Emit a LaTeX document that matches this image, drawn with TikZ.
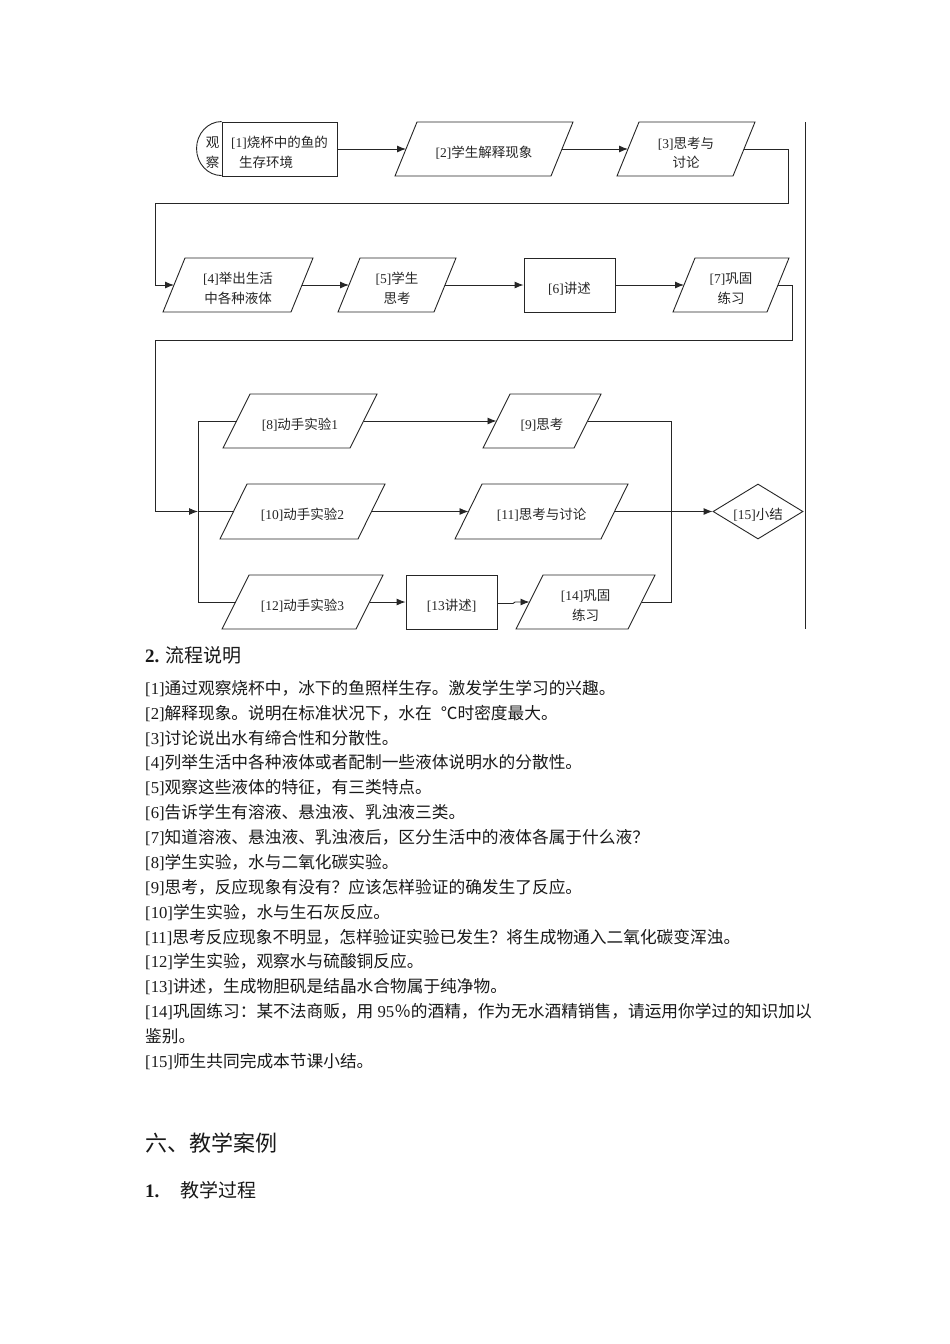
\documentclass[tikz,border=0pt]{standalone}
\usepackage{fontspec}
\setmainfont{Noto Sans CJK SC}
\newfontfamily\tmr{Liberation Serif}
\usetikzlibrary{arrows.meta,shapes.geometric}
\newcommand\lat[1]{{\tmr #1}}
\newcommand\pgram[7]{% name, BLx, TRx, slant, ytop, ybot, text
  \draw[shapeline] (#2,#6) -- (#2+#4,#5) -- (#3,#5) -- (#3-#4,#6) -- cycle;
  \coordinate (#1-w) at ({#2+#4/2},{(#5+#6)/2});
  \coordinate (#1-e) at ({#3-#4/2},{(#5+#6)/2});
  \node[boxtxt] (#1) at ({(#2+#3)/2},{(#5+#6)/2}) {#7};
}
\begin{document}
\begin{tikzpicture}[x=1pt,y=-1pt,
  shapeline/.style={line width=0.9pt, draw=black!85},
  conn/.style={line width=0.9pt, draw=black!85},
  arr/.style={conn, -{Latex[length=9pt,width=7pt]}},
  boxtxt/.style={font=\fontsize{13.5}{19.5}\selectfont, align=center, inner sep=0pt, text=black!85, yshift=-3.5pt},
  rbox/.style={shapeline, boxtxt, inner sep=0pt},
  body/.style={font=\fontsize{16.7}{20}\selectfont, anchor=base west, inner sep=0pt, text=black!90},
  head/.style={font=\fontsize{19}{22}\selectfont, anchor=base west, inner sep=0pt, text=black!90},
]
\useasboundingbox[fill=white] (0,0) rectangle (950,1344);

% ---------- row 1 ----------
\node[shapeline, draw, minimum width=115pt, minimum height=54pt, inner sep=0pt] (n1) at (279.5,149) {};
\node[boxtxt, align=left] (n1t) at (n1.center) {\lat{[1]}烧杯中的鱼的\\\hspace*{8pt}生存环境};
\draw[shapeline] (n1.north west) arc[start angle=270, end angle=90, x radius=25, y radius=27];
\node[boxtxt] (obs) at (212.5,149) {观\\察};
\pgram{p2}{395}{573}{22}{122}{176}{\lat{[2]}学生解释现象}
\pgram{p3}{617}{755}{22}{122}{176}{\lat{[3]}思考与\\讨论}

% ---------- row 2 ----------
\pgram{p4}{163}{313}{22}{258}{312}{\lat{[4]}举出生活\\中各种液体}
\pgram{p5}{338}{456}{22}{258}{312}{\lat{[5]}学生\\思考}
\node[shapeline, draw, minimum width=91pt, minimum height=54pt, inner sep=0pt] (r6) at (569.5,285) {};
\node[boxtxt] (r6t) at (r6.center) {\lat{[6]}讲述};
\pgram{p7}{673}{789}{22}{258}{312}{\lat{[7]}巩固\\练习}

% ---------- row 3 ----------
\pgram{p8}{223}{377}{27}{394}{448}{\lat{[8]}动手实验\lat{1}}
\pgram{p9}{483}{601}{27}{394}{448}{\lat{[9]}思考}
\pgram{p10}{220}{385}{27}{484}{539}{\lat{[10]}动手实验\lat{2}}
\pgram{p11}{455}{628}{27}{484}{539}{\lat{[11]}思考与讨论}
\node[shapeline, draw, diamond, inner sep=0pt, minimum width=90pt, minimum height=55pt] (d15) at (758,511.5) {};
\node[boxtxt] (d15t) at (d15.center) {\lat{[15]}小结};
\pgram{p12}{222}{383}{27}{575}{629}{\lat{[12]}动手实验\lat{3}}
\node[shapeline, draw, minimum width=91pt, minimum height=54pt, inner sep=0pt] (r13) at (451.5,602) {};
\node[boxtxt] (r13t) at (r13.center) {\lat{[13}讲述\lat{]}};
\pgram{p14}{516}{655}{27}{575}{629}{\lat{[14]}巩固\\练习}

% helper coordinates
\coordinate (c3a) at (788,149);
\coordinate (c3b) at (788,203);
\coordinate (c3c) at (155,203);
\coordinate (c4) at (155,285);
\coordinate (c7a) at (792,285);
\coordinate (c7b) at (792,340);
\coordinate (c7c) at (155,340);
\coordinate (c10) at (155,511.5);
\coordinate (jn) at (198,511.5);
\coordinate (jt) at (198,421);
\coordinate (jb) at (198,602);
\coordinate (mt) at (671,421);
\coordinate (mb) at (671,602);
\coordinate (rt) at (805,122);
\coordinate (rb) at (805,629);
\coordinate (k1) at (513,603.5);
\coordinate (k2) at (515,602);

% ---------- connectors ----------
\draw[arr] (n1.east) -- (p2-w);
\draw[arr] (p2-e) -- (p3-w);
\draw[arr] (p3-e) -- (c3a) -- (c3b) -- (c3c) -- (c4) -- (p4-w);
\draw[arr] (p4-e) -- (p5-w);
\draw[arr] (p5-e) -- (r6.west);
\draw[arr] (r6.east) -- (p7-w);
\draw[arr] (p7-e) -- (c7a) -- (c7b) -- (c7c) -- (c10) -- (jn);
\draw[conn] (jn) -- (p10-w);
\draw[conn] (jt) -- (jb);
\draw[conn] (jt) -- (p8-w);
\draw[conn] (jb) -- (p12-w);
\draw[arr] (p8-e) -- (p9-w);
\draw[arr] (p10-e) -- (p11-w);
\draw[arr] (p11-e) -- (d15.west);
\draw[arr] (p12-e) -- (r13.west);
\draw[arr] (r13.east |- k1) -- (k1) -- (k2) -- (p14-w);
\draw[conn] (p9-e) -- (mt) -- (mb) -- (p14-e);
\draw[conn] (rt) -- (rb);

% ---------- text ----------
\node[head] (h2) at (145,662) {\lat{\textbf{2.}} 流程说明};
\node[body] (t1) at (145,694.3) {\lat{[1]}通过观察烧杯中，冰下的鱼照样生存。激发学生学习的兴趣。};
\node[body] (t2) at (145,719.2) {\lat{[2]}解释现象。说明在标准状况下，水在\hspace{9pt}℃时密度最大。};
\node[body] (t3) at (145,744.0) {\lat{[3]}讨论说出水有缔合性和分散性。};
\node[body] (t4) at (145,768.9) {\lat{[4]}列举生活中各种液体或者配制一些液体说明水的分散性。};
\node[body] (t5) at (145,793.8) {\lat{[5]}观察这些液体的特征，有三类特点。};
\node[body] (t6) at (145,818.7) {\lat{[6]}告诉学生有溶液、悬浊液、乳浊液三类。};
\node[body] (t7) at (145,843.5) {\lat{[7]}知道溶液、悬浊液、乳浊液后，区分生活中的液体各属于什么液？};
\node[body] (t8) at (145,868.4) {\lat{[8]}学生实验，水与二氧化碳实验。};
\node[body] (t9) at (145,893.3) {\lat{[9]}思考，反应现象有没有？应该怎样验证的确发生了反应。};
\node[body] (t10) at (145,918.1) {\lat{[10]}学生实验，水与生石灰反应。};
\node[body] (t11) at (145,943.0) {\lat{[11]}思考反应现象不明显，怎样验证实验已发生？将生成物通入二氧化碳变浑浊。};
\node[body] (t12) at (145,967.9) {\lat{[12]}学生实验，观察水与硫酸铜反应。};
\node[body] (t13) at (145,992.7) {\lat{[13]}讲述，生成物胆矾是结晶水合物属于纯净物。};
\node[body] (t14) at (145,1017.6) {\lat{[14]}巩固练习：某不法商贩，用\lat{ 95}％的酒精，作为无水酒精销售，请运用你学过的知识加以};
\node[body] (t14b) at (145,1042.5) {鉴别。};
\node[body] (t15) at (145,1067.3) {\lat{[15]}师生共同完成本节课小结。};

\node[head, font=\fontsize{22}{26}\selectfont] (h6) at (145,1151) {六、教学案例};
\node[head] (h1) at (145,1197) {\lat{\textbf{1.}}\hspace{21pt}教学过程};
\end{tikzpicture}
\end{document}
